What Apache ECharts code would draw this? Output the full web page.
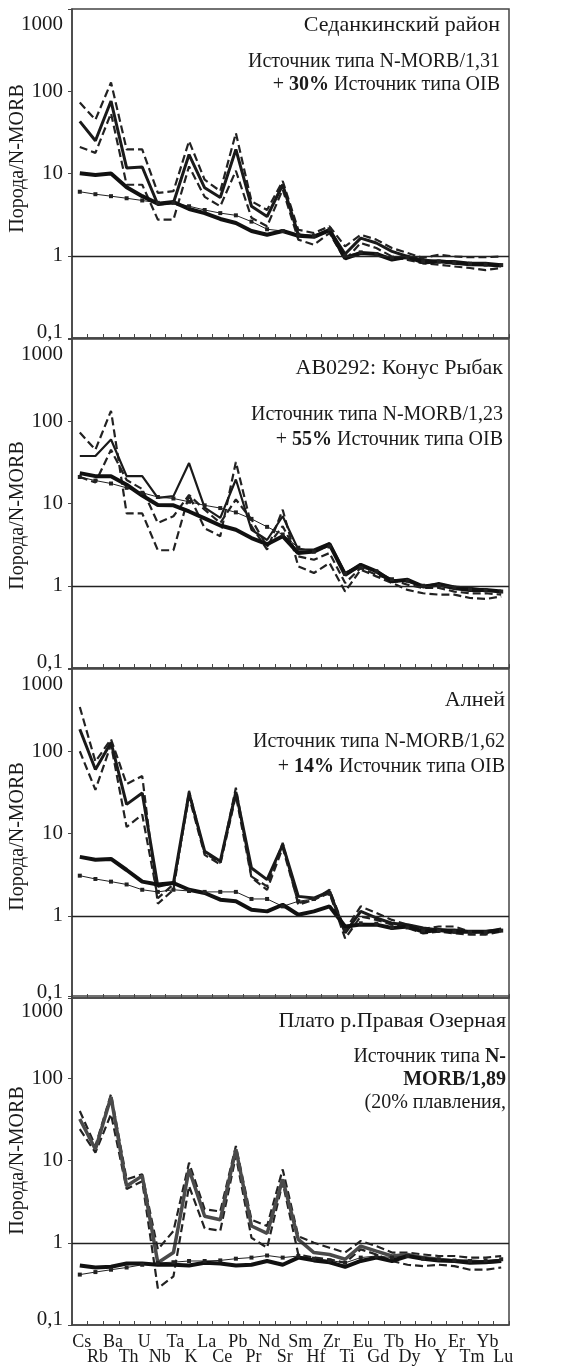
<!DOCTYPE html>
<html>
<head>
<meta charset="utf-8">
<script src="https://cdn.jsdelivr.net/npm/echarts@6/dist/echarts.min.js"></script>
<style>
  html, body { margin: 0; padding: 0; background: #fff; }
  #chart { width: 568px; height: 1366px; }
</style>
</head>
<body>
<div id="chart"></div>
<script>
// элементы (порядок на оси X)
const elements = ['Cs', 'Rb', 'Ba', 'Th', 'U', 'Nb', 'Ta', 'K', 'La', 'Ce', 'Pb', 'Pr', 'Nd', 'Sr',
  'Sm', 'Hf', 'Zr', 'Ti', 'Eu', 'Gd', 'Tb', 'Dy', 'Ho', 'Y', 'Er', 'Tm', 'Yb', 'Lu']

// Седанкинский район
const p1High  = [43, 25, 76, 11.7, 12, 4.2, 4.4, 17, 6.7, 5.1, 19.6, 4.0, 3.0, 7.3, 1.8, 1.72, 2.07, 1.05, 1.64, 1.43, 1.13, 0.98, 0.89, 0.85, 0.85, 0.81, 0.81, 0.78]
const p1DashA = [73, 45, 128, 19.6, 19.6, 5.8, 6.1, 24.8, 8.4, 6.1, 31, 4.6, 3.6, 8.1, 2.07, 1.89, 2.28, 1.3, 1.8, 1.57, 1.24, 1.08, 0.94, 1.03, 0.98, 0.96, 0.96, 0.98]
const p1DashB = [21, 17.8, 54, 7.3, 7.3, 2.75, 2.75, 12.2, 5.2, 4.0, 10.8, 2.9, 2.28, 6.4, 1.57, 1.36, 1.89, 0.89, 1.43, 1.24, 0.98, 0.89, 0.81, 0.78, 0.74, 0.71, 0.67, 0.71]
const p1Thick = [10.1, 9.6, 10, 6.8, 5.3, 4.3, 4.5, 3.7, 3.3, 2.8, 2.5, 2.0, 1.8, 2.0, 1.75, 1.7, 2.05, 0.93, 1.08, 1.05, 0.9, 0.97, 0.83, 0.86, 0.82, 0.79, 0.78, 0.76]
const p1Thin  = [6.0, 5.6, 5.3, 5.0, 4.7, 4.4, 4.4, 4.0, 3.6, 3.3, 3.1, 2.6, 2.1, 2.0, 1.8, 1.75, 2.1, 1.0, 1.1, 1.05, 0.95, 0.95, 0.85, 0.85, 0.82, 0.8, 0.78, 0.77]

// AB0292: Конус Рыбак
const p2High  = [37.8, 37.8, 60, 21.5, 21.5, 11.7, 12.3, 31, 8.9, 6.7, 19.6, 4.8, 3.6, 7.0, 2.75, 2.75, 3.3, 1.43, 1.8, 1.5, 1.18, 1.13, 0.98, 1.08, 0.98, 0.94, 0.89, 0.85]
const p2DashA = [73, 45, 134, 7.6, 7.6, 2.7, 2.7, 12.7, 5.0, 4.0, 32, 5.3, 2.75, 8.4, 1.72, 1.43, 1.89, 0.85, 1.57, 1.3, 1.08, 0.89, 0.81, 0.78, 0.78, 0.71, 0.69, 0.74]
const p2DashB = [21, 18, 45, 19.3, 15, 5.8, 7.0, 12.7, 8.4, 5.8, 11.2, 6.4, 3.0, 5.3, 2.28, 2.07, 2.5, 1.08, 1.64, 1.36, 1.18, 1.03, 0.94, 0.94, 0.85, 0.81, 0.81, 0.78]
const p2Thick = [23.4, 21.5, 21.5, 16.9, 12.5, 9.6, 9.5, 8.0, 6.6, 5.4, 4.8, 3.8, 3.2, 4.0, 2.5, 2.6, 3.2, 1.36, 1.8, 1.5, 1.13, 1.18, 0.98, 1.03, 0.94, 0.89, 0.89, 0.85]
const p2Thin  = [21, 19, 17.5, 15.5, 13.5, 12, 11.5, 10.5, 9.5, 8.8, 7.8, 6.5, 5.2, 4.2, 2.9, 2.6, 3.0, 1.4, 1.65, 1.5, 1.2, 1.15, 1.0, 1.0, 0.95, 0.9, 0.88, 0.85]

// Алней
const p3High  = [185, 60, 128, 22.6, 31, 2.28, 2.5, 31, 6.1, 4.6, 32, 3.8, 2.75, 7.3, 1.72, 1.64, 1.98, 0.62, 1.13, 0.94, 0.81, 0.78, 0.71, 0.67, 0.67, 0.64, 0.64, 0.69]
const p3DashA = [345, 75, 140, 40, 50, 1.4, 2.07, 33, 5.8, 4.4, 36, 3.0, 2.28, 7.7, 1.36, 1.57, 2.07, 0.67, 1.3, 1.08, 0.89, 0.78, 0.69, 0.74, 0.74, 0.64, 0.61, 0.67]
const p3DashB = [100, 34, 120, 12, 17, 1.64, 2.4, 28, 5.5, 4.2, 29, 2.9, 2.07, 6.7, 1.43, 1.57, 1.89, 0.53, 0.98, 0.89, 0.78, 0.71, 0.61, 0.64, 0.61, 0.59, 0.59, 0.64]
const p3Thick = [5.2, 4.8, 4.9, 3.6, 2.6, 2.4, 2.5, 2.07, 1.89, 1.57, 1.5, 1.18, 1.13, 1.36, 1.03, 1.13, 1.3, 0.74, 0.78, 0.78, 0.71, 0.74, 0.64, 0.67, 0.64, 0.64, 0.64, 0.66]
const p3Thin  = [3.07, 2.8, 2.6, 2.4, 2.07, 1.95, 2.07, 2.0, 1.95, 1.95, 1.95, 1.6, 1.6, 1.3, 1.5, 1.6, 1.85, 0.67, 0.81, 0.8, 0.72, 0.72, 0.66, 0.66, 0.64, 0.63, 0.63, 0.66]

// Плато р.Правая Озерная
const p4High  = [32, 13.7, 59, 4.9, 6.5, 0.57, 0.76, 7.8, 2.1, 1.9, 13.7, 1.6, 1.3, 5.9, 1.1, 0.76, 0.72, 0.63, 0.91, 0.79, 0.69, 0.72, 0.66, 0.63, 0.6, 0.6, 0.58, 0.6]
const p4DashA = [40, 15, 64, 5.9, 6.8, 0.83, 1.39, 9.4, 2.55, 2.4, 15, 1.9, 1.6, 7.8, 1.2, 1.0, 0.87, 0.76, 1.05, 0.91, 0.76, 0.76, 0.72, 0.69, 0.69, 0.66, 0.66, 0.69]
const p4DashB = [24, 12.5, 36.6, 4.5, 5.6, 0.28, 0.39, 4.9, 1.5, 1.4, 11.4, 1.15, 0.87, 5.4, 0.72, 0.66, 0.63, 0.57, 0.83, 0.72, 0.6, 0.54, 0.52, 0.54, 0.52, 0.47, 0.47, 0.5]
const p4Thick = [0.53, 0.5, 0.51, 0.56, 0.56, 0.54, 0.54, 0.53, 0.57, 0.56, 0.53, 0.54, 0.6, 0.54, 0.66, 0.61, 0.58, 0.51, 0.6, 0.66, 0.6, 0.69, 0.64, 0.61, 0.6, 0.57, 0.58, 0.6]
const p4Thin  = [0.41, 0.44, 0.47, 0.5, 0.54, 0.57, 0.58, 0.6, 0.6, 0.61, 0.64, 0.66, 0.7, 0.66, 0.69, 0.64, 0.61, 0.57, 0.66, 0.69, 0.66, 0.69, 0.64, 0.63, 0.61, 0.6, 0.61, 0.63]

const serif = 'Liberation Serif'
const ink = '#1a1a1a'

const panels = [
  { top: 9,   title: 'Седанкинский район', right: 68, titleTop: 14,
    lines: [['Источник типа N-MORB/1,31', 52], ['+ {b|30%} Источник типа OIB', 75]],
    nameShift: 30, highColor: ink, highWidth: 3,
    high: p1High, dashA: p1DashA, dashB: p1DashB, thick: p1Thick, thin: p1Thin },
  { top: 339, title: 'AB0292: Конус Рыбак', right: 65, titleTop: 357,
    lines: [['Источник типа N-MORB/1,23', 405], ['+ {b|55%} Источник типа OIB', 430]],
    nameShift: -24, highColor: ink, highWidth: 2.2,
    high: p2High, dashA: p2DashA, dashB: p2DashB, thick: p2Thick, thin: p2Thin },
  { top: 669, title: 'Алней', right: 63, titleTop: 689,
    lines: [['Источник типа N-MORB/1,62', 732], ['+ {b|14%} Источник типа OIB', 757]],
    nameShift: -6, highColor: ink, highWidth: 3,
    high: p3High, dashA: p3DashA, dashB: p3DashB, thick: p3Thick, thin: p3Thin },
  { top: 996, title: 'Плато р.Правая Озерная', right: 62, titleTop: 1010,
    lines: [['Источник типа {b|N-}', 1047], ['{b|MORB/1,89}', 1070], ['(20% плавления,', 1093]],
    nameShift: 0, highColor: '#4a4a4a', highWidth: 3.5,
    high: p4High, dashA: p4DashA, dashB: p4DashB, thick: p4Thick, thin: p4Thin }
]

const grids = []
const xAxes = []
const yAxes = []
const titles = []
const series = []

panels.forEach(function (p, i) {
  grids.push({
    left: 72, right: 59, top: p.top, height: 329,
    containLabel: false, outerBoundsMode: 'none',
    show: true, borderColor: '#444', borderWidth: 1.5, backgroundColor: 'transparent'
  })
  const last = i === panels.length - 1
  xAxes.push({
    type: 'category', gridIndex: i, data: elements, boundaryGap: true,
    axisLine: { show: true, lineStyle: { color: '#444', width: 1.5 } },
    axisTick: { show: true, inside: true, length: 4, lineStyle: { color: '#444' } },
    axisLabel: {
      show: last, interval: 0, margin: 10, fontFamily: serif, fontSize: 18, lineHeight: 15, color: ink,
      padding: [0, 0, 0, 4],
      formatter: function (v, idx) { return idx % 2 === 0 ? v + '\n ' : ' \n' + v }
    },
    splitLine: { show: false }
  })
  yAxes.push({
    type: 'log', gridIndex: i, logBase: 10, min: 0.1, max: 1000,
    name: 'Порода/N-MORB', nameLocation: 'middle', nameGap: 44, nameMoveOverlap: false,
    nameTextStyle: {
      fontFamily: serif, fontSize: 20, color: ink,
      padding: p.nameShift >= 0 ? [0, 0, 0, p.nameShift] : [0, -p.nameShift, 0, 0]
    },
    axisLine: { show: true, lineStyle: { color: '#444', width: 1.5 } },
    axisTick: { show: true, inside: false, length: 4, lineStyle: { color: '#444' } },
    splitLine: { show: false },
    minorTick: { show: false },
    axisLabel: {
      margin: 9, fontFamily: serif, fontSize: 21, color: ink, showMinLabel: true, showMaxLabel: true,
      formatter: function (v) {
        if (v >= 999) return '{t|1000}'
        if (v < 0.5) return '{m|0,1}'
        return String(Math.round(v))
      },
      rich: {
        t: { fontFamily: serif, fontSize: 21, color: ink, padding: [30, 0, 0, 0] },
        m: { fontFamily: serif, fontSize: 21, color: ink, padding: [0, 0, 12, 0] }
      }
    }
  })

  const rich = { b: { fontFamily: serif, fontSize: 20, fontWeight: 'bold', color: ink } }
  titles.push({
    text: p.title, right: p.right, top: p.titleTop, padding: 0,
    textStyle: { fontFamily: serif, fontSize: 22, fontWeight: 'normal', color: ink }
  })
  p.lines.forEach(function (ln) {
    titles.push({
      text: ln[0], right: p.right, top: ln[1], padding: 0,
      textStyle: { fontFamily: serif, fontSize: 20, fontWeight: 'normal', color: ink, rich: rich }
    })
  })

  const base = { type: 'line', xAxisIndex: i, yAxisIndex: i, silent: true, animation: false }
  series.push(Object.assign({}, base, {
    data: p.dashA, showSymbol: false, lineStyle: { color: '#222', width: 2.2, type: [8, 4] }
  }))
  series.push(Object.assign({}, base, {
    data: p.dashB, showSymbol: false, lineStyle: { color: '#222', width: 2.2, type: [8, 4] }
  }))
  series.push(Object.assign({}, base, {
    data: p.high, showSymbol: false, lineStyle: { color: p.highColor, width: p.highWidth }
  }))
  series.push(Object.assign({}, base, {
    data: p.thin, symbol: 'rect', symbolSize: 4, showSymbol: true,
    itemStyle: { color: '#222' }, lineStyle: { color: '#222', width: 1 }
  }))
  series.push(Object.assign({}, base, {
    data: p.thick, showSymbol: false, lineStyle: { color: '#111', width: 4 },
    markLine: {
      silent: true, symbol: 'none', label: { show: false },
      lineStyle: { color: '#222', width: 1.3, type: 'solid' },
      data: [{ yAxis: 1 }]
    }
  }))
})

const chart = echarts.init(document.getElementById('chart'))
chart.setOption({
  backgroundColor: '#fff',
  animation: false,
  title: titles,
  grid: grids,
  xAxis: xAxes,
  yAxis: yAxes,
  series: series
})
</script>
</body>
</html>
